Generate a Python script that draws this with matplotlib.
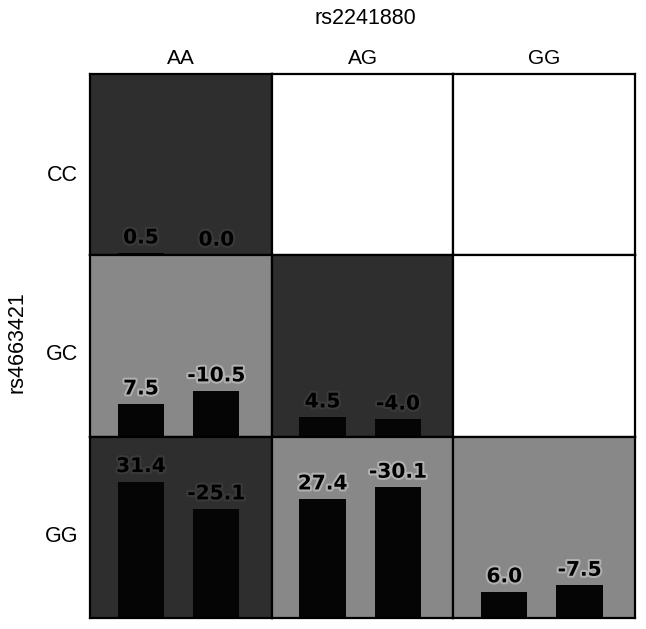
import matplotlib
matplotlib.use("Agg")
import matplotlib.pyplot as plt
import matplotlib.patheffects as pe

# ---- data ----
col_labels = ["AA", "AG", "GG"]          # rs2241880
row_labels = ["CC", "GC", "GG"]          # rs4663421
col_title = "rs2241880"
row_title = "rs4663421"

# bar values per cell (row, col); cells not listed are empty
cell_values = {
    ("CC", "AA"): [0.5, 0.0],
    ("GC", "AA"): [7.5, -10.5],
    ("GC", "AG"): [4.5, -4.0],
    ("GG", "AA"): [31.4, -25.1],
    ("GG", "AG"): [27.4, -30.1],
    ("GG", "GG"): [6.0, -7.5],
}
# background shade category per cell
cell_shade = {
    ("CC", "AA"): "dark",
    ("GC", "AA"): "light",
    ("GC", "AG"): "dark",
    ("GG", "AA"): "dark",
    ("GG", "AG"): "light",
    ("GG", "GG"): "light",
}

shade_colors = {"dark": "#2e2e2e", "light": "#888888", None: "#ffffff"}
halo_colors = {"dark": "#3a3a3a", "light": "#b0b0b0", None: "#ffffff"}

W, H = 646, 629
fig = plt.figure(figsize=(W / 100, H / 100), dpi=100)
fig.patch.set_facecolor("white")

left, right, top, bottom = 90 / W, 635 / W, 1 - 74 / H, 1 - 618 / H
gs = fig.add_gridspec(3, 3, left=left, right=right, top=top, bottom=bottom,
                      wspace=0, hspace=0)

bar_x = [0.28, 0.695]
bar_w = 0.255
ymax = 41.8

for i, r in enumerate(row_labels):
    for j, c in enumerate(col_labels):
        ax = fig.add_subplot(gs[i, j])
        shade = cell_shade.get((r, c))
        ax.set_facecolor(shade_colors[shade])
        ax.set_xlim(0, 1)
        ax.set_ylim(0, ymax)
        ax.set_xticks([])
        ax.set_yticks([])
        for s in ax.spines.values():
            s.set_color("black")
            s.set_linewidth(1.6)
        vals = cell_values.get((r, c))
        if vals is None:
            continue
        heights = [abs(v) for v in vals]
        ax.bar(bar_x, heights, width=bar_w, color="#050505", zorder=2)
        for x, h, v in zip(bar_x, heights, vals):
            ax.annotate(f"{v:.1f}", xy=(x, h), xytext=(0, 7),
                        textcoords="offset points", ha="center", va="baseline",
                        fontsize=14.5, fontweight="bold", family="DejaVu Sans",
                        color="black", zorder=3,
                        path_effects=[pe.withStroke(linewidth=3,
                                                    foreground=halo_colors[shade])])

def ftext(x, y, s, size=15, **kw):
    fig.text(x / W, 1 - y / H, s, ha="center", va="center",
             family="Liberation Sans", fontsize=size, **kw)

ftext(365, 19, col_title, size=15.5)
for x, s in zip([181, 363, 544], col_labels):
    ftext(x, 59, s, size=15)
for y, s in zip([176, 355, 537], row_labels):
    ftext(62, y, s, size=15.5)
ftext(17, 342, row_title, size=15.5, rotation=90)

fig.savefig("out.png", dpi=100)
